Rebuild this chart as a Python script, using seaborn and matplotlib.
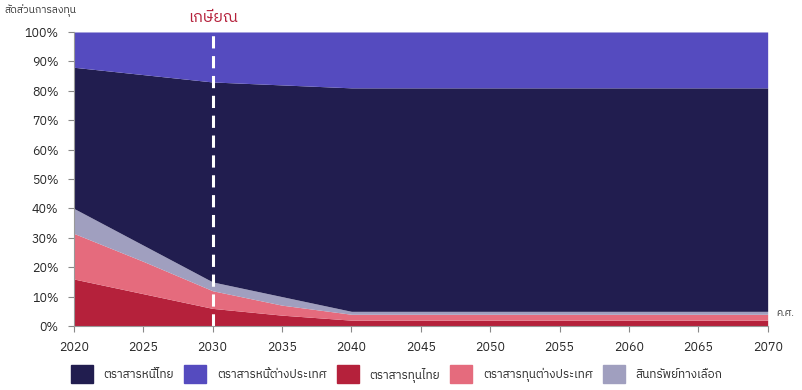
import matplotlib
matplotlib.use("Agg")
import matplotlib.pyplot as plt
import matplotlib.patches as mpatches
import seaborn as sns
from matplotlib import font_manager

years = [2020, 2025, 2030, 2035, 2040, 2045, 2050, 2055, 2060, 2065, 2070]
thai_equity = [16, 11, 6, 3.7, 2, 2, 2, 2, 2, 2, 2]
foreign_equity = [15.5, 11, 6, 3.4, 2, 2, 2, 2, 2, 2, 2]
alternative = [8.5, 5.5, 3, 2.9, 1, 1, 1, 1, 1, 1, 1]
thai_bond = [48, 58, 68, 72, 76, 76, 76, 76, 76, 76, 76]
foreign_bond = [12, 14.5, 17, 18, 19, 19, 19, 19, 19, 19, 19]

labels = ["ตราสารหนี้ไทย", "ตราสารหนี้ต่างประเทศ", "ตราสารทุนไทย",
          "ตราสารทุนต่างประเทศ", "สินทรัพย์ทางเลือก"]
colors = {"thai_bond": "#211d4f", "foreign_bond": "#554bbf", "thai_equity": "#b5213b",
          "foreign_equity": "#e56b7d", "alternative": "#a09fbf"}

sns.set_style("white")
installed = {f.name for f in font_manager.fontManager.ttflist}
thai_fonts = [f for f in installed if "Thai" in f or f in ("Loma", "Garuda", "Tahoma", "Sarabun", "Kinnari", "Norasi", "Waree")]
plt.rcParams["font.family"] = sorted(thai_fonts) + ["DejaVu Sans"]

fig = plt.figure(figsize=(8.03, 3.9), dpi=100)
ax = fig.add_axes([0.092, 0.164, 0.864, 0.754])

ax.stackplot(years, thai_equity, foreign_equity, alternative, thai_bond, foreign_bond,
             colors=[colors["thai_equity"], colors["foreign_equity"], colors["alternative"],
                     colors["thai_bond"], colors["foreign_bond"]], linewidth=0)

ax.axvline(2030, color="white", linestyle=(0, (4, 2.5)), linewidth=2.2)
ax.text(2030, 1.025, "เกษียณ", transform=ax.get_xaxis_transform(), ha="center", va="bottom",
        color="#b5213b", fontsize=11.5)

ax.set_xlim(2020, 2070)
ax.set_ylim(0, 100)
ax.set_xticks(range(2020, 2071, 5))
ax.set_yticks(range(0, 101, 10))
ax.set_yticklabels([f"{v}%" for v in range(0, 101, 10)])
ax.tick_params(axis="both", labelsize=9, length=4, color="#888888", direction="out",
               bottom=True, left=True, pad=7)
for side in ["top", "right"]:
    ax.spines[side].set_visible(False)
for side in ["left", "bottom"]:
    ax.spines[side].set_color("#999999")

fig.text(0.006, 0.99, "สัดส่วนการลงทุน", fontsize=7.5, ha="left", va="top", color="#333333")
fig.text(0.967, 0.195, "ค.ศ.", fontsize=7, ha="left", va="center", color="#333333")

handles = [mpatches.Patch(color=colors[k]) for k in
           ["thai_bond", "foreign_bond", "thai_equity", "foreign_equity", "alternative"]]
fig.legend(handles, labels, loc="center left", bbox_to_anchor=(0.088, 0.041), ncol=5,
           frameon=False, fontsize=8.5, handlelength=1.86, handleheight=2.0,
           columnspacing=0.85, handletextpad=0.93, borderpad=0, borderaxespad=0)

fig.savefig("out.png", dpi=100)
